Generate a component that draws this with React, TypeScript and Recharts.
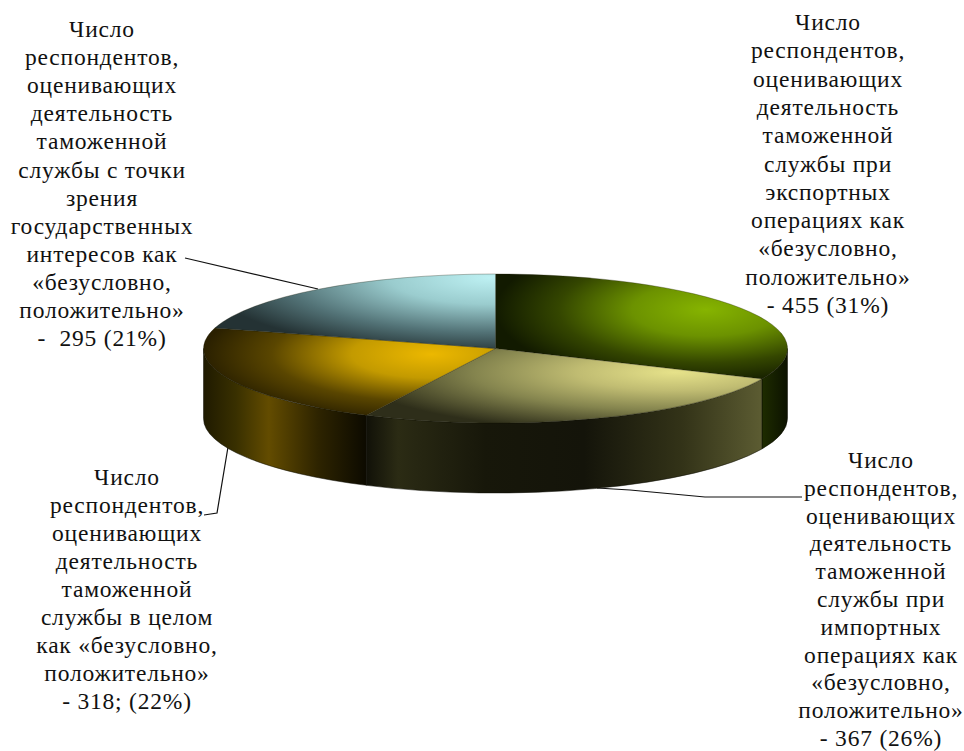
import { Pie, PieChart } from "recharts";

const categories = ["Экспорт", "Импорт", "В целом", "Интересы"];
const values = [455, 367, 318, 295];

const labelExport = ["Число", "респондентов,", "оценивающих", "деятельность", "таможенной", "службы при", "экспортных", "операциях как", "«безусловно,", "положительно»", "- 455 (31%)"];
const labelImport = ["Число", "респондентов,", "оценивающих", "деятельность", "таможенной", "службы при", "импортных", "операциях как", "«безусловно,", "положительно»", "- 367 (26%)"];
const labelTotal = ["Число", "респондентов,", "оценивающих", "деятельность", "таможенной", "службы в целом", "как «безусловно,", "положительно»", "- 318; (22%)"];
const labelState = ["Число", "респондентов,", "оценивающих", "деятельность", "таможенной", "службы с точки", "зрения", "государственных", "интересов как", "«безусловно,", "положительно»", "-  295 (21%)"];

const W = 964;
const H = 751;
const CX = 495.5;
const CY = 348.5;
const RX = 292;
const RY = 74.5;
const DEPTH = 70;

const data = categories.map((name, i) => ({ name, value: values[i], i }));

const topFills = ["url(#topGreen)", "url(#topOlive)", "url(#topYellow)", "url(#topBlue)"];
const wallFills = ["url(#wallGreen)", "url(#wallOlive)", "url(#wallYellow)", "#000"];

const pt = (a: number, dy = 0) => {
  const r = (a * Math.PI) / 180;
  return [CX + RX * Math.cos(r), CY - RY * Math.sin(r) + dy];
};

function TopSector(props: any) {
  const { startAngle, endAngle, index } = props;
  const [x1, y1] = pt(startAngle);
  const [x2, y2] = pt(endAngle);
  const large = startAngle - endAngle > 180 ? 1 : 0;
  return (
    <path
      d={`M${CX},${CY} L${x1},${y1} A${RX},${RY} 0 ${large} 1 ${x2},${y2} Z`}
      fill={topFills[index]}
      stroke="#1a1a08"
      strokeOpacity={0.5}
      strokeWidth={0.6}
    />
  );
}

function WallSector(props: any) {
  const { startAngle, endAngle, index } = props;
  const hi = Math.min(startAngle, 0);
  const lo = Math.max(endAngle, -180);
  if (lo >= hi) return <g />;
  const [x1, y1] = pt(hi);
  const [x2, y2] = pt(lo);
  return (
    <path
      d={`M${x1},${y1} A${RX},${RY} 0 0 1 ${x2},${y2} L${x2},${y2 + DEPTH} A${RX},${RY} 0 0 0 ${x1},${y1 + DEPTH} Z`}
      fill={wallFills[index]}
      stroke="#0c0c04"
      strokeWidth={0.5}
    />
  );
}

function Label({ lines, x, y, step }: { lines: string[]; x: number; y: number; step: number }) {
  return (
    <text
      textAnchor="middle"
      fontFamily="'Liberation Serif', serif"
      fontSize={23.5}
      letterSpacing={0.8}
      fill="#111"
    >
      {lines.map((l, i) => (
        <tspan key={i} x={x} y={y + i * step} xmlSpace="preserve">
          {l}
        </tspan>
      ))}
    </text>
  );
}

export default function App() {
  return (
    <div style={{ position: "absolute", left: 0, top: 0, width: W, height: H, background: "#fff" }}>
      <PieChart width={W} height={H} margin={{ top: 0, right: 0, bottom: 0, left: 0 }}>
        <defs>
          <radialGradient id="topGreen" cx="0.72" cy="0.34" r="0.72">
            <stop offset="0" stopColor="#86b400" />
            <stop offset="0.35" stopColor="#6c9200" />
            <stop offset="0.7" stopColor="#344600" />
            <stop offset="1" stopColor="#121a00" />
          </radialGradient>
          <radialGradient id="topOlive" cx="0.78" cy="0.32" r="0.82">
            <stop offset="0" stopColor="#e6e28a" />
            <stop offset="0.3" stopColor="#c0bc72" />
            <stop offset="0.62" stopColor="#84844e" />
            <stop offset="1" stopColor="#2e2e1a" />
          </radialGradient>
          <radialGradient id="topYellow" cx="0.78" cy="0.3" r="0.78">
            <stop offset="0" stopColor="#ecb800" />
            <stop offset="0.35" stopColor="#c39a00" />
            <stop offset="0.7" stopColor="#5a4600" />
            <stop offset="1" stopColor="#2a2000" />
          </radialGradient>
          <radialGradient id="topBlue" cx="0.98" cy="0.05" r="1.02">
            <stop offset="0" stopColor="#bdf0f2" />
            <stop offset="0.35" stopColor="#9accce" />
            <stop offset="0.72" stopColor="#527276" />
            <stop offset="1" stopColor="#243234" />
          </radialGradient>
          <linearGradient id="wallGreen" x1="0" x2="1" y1="0" y2="0">
            <stop offset="0" stopColor="#1e2c00" />
            <stop offset="1" stopColor="#0c1200" />
          </linearGradient>
          <linearGradient id="wallOlive" x1="0" x2="1" y1="0" y2="0">
            <stop offset="0" stopColor="#111108" />
            <stop offset="0.08" stopColor="#2b2b14" />
            <stop offset="0.3" stopColor="#17170a" />
            <stop offset="0.55" stopColor="#14140a" />
            <stop offset="0.8" stopColor="#333318" />
            <stop offset="1" stopColor="#5c5c32" />
          </linearGradient>
          <linearGradient id="wallYellow" x1="0" x2="1" y1="0" y2="0">
            <stop offset="0" stopColor="#1f1a00" />
            <stop offset="0.2" stopColor="#393000" />
            <stop offset="0.4" stopColor="#634c00" />
            <stop offset="0.7" stopColor="#2e2400" />
            <stop offset="1" stopColor="#0c0a00" />
          </linearGradient>
        </defs>
        <Pie
          data={data}
          dataKey="value"
          cx={CX}
          cy={CY}
          outerRadius={RX}
          startAngle={90}
          endAngle={-270}
          paddingAngle={0}
          stroke="none"
          shape={WallSector}
          isAnimationActive={false}
        />
        <Pie
          data={data}
          dataKey="value"
          cx={CX}
          cy={CY}
          outerRadius={RX}
          startAngle={90}
          endAngle={-270}
          paddingAngle={0}
          stroke="none"
          shape={TopSector}
          isAnimationActive={false}
        />
        <polyline points="185,258 318,289" fill="none" stroke="#111" strokeWidth={1.2} />
        <polyline points="597,488 630,490 705,497 802,497" fill="none" stroke="#111" strokeWidth={1.2} />
        <polyline points="228,447 217,513 204,515" fill="none" stroke="#111" strokeWidth={1.2} />
        <Label lines={labelState} x={102} y={37} step={28.1} />
        <Label lines={labelExport} x={828} y={30} step={28.3} />
        <Label lines={labelImport} x={881} y={468} step={27.8} />
        <Label lines={labelTotal} x={127} y={485} step={28} />
      </PieChart>
    </div>
  );
}
